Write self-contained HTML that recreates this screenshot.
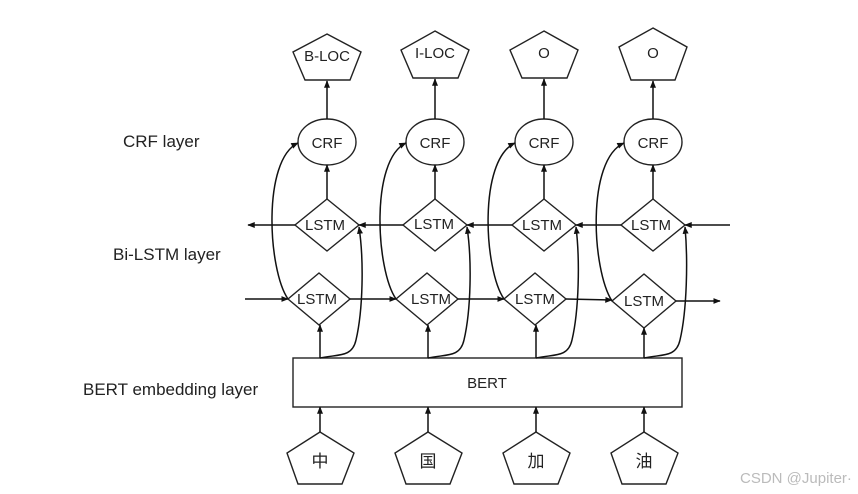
<!DOCTYPE html>
<html><head><meta charset="utf-8"><style>
body{margin:0;background:#fff}
svg{display:block}
text{font-family:"Liberation Sans","Noto Sans CJK SC",sans-serif;fill:#222}
</style></head><body>
<svg width="858" height="494" viewBox="0 0 858 494" xmlns="http://www.w3.org/2000/svg">
<defs><marker id="a" viewBox="0 0 10 10" refX="9" refY="5" markerWidth="5" markerHeight="5" orient="auto"><path d="M0,1 L10,5 L0,9z" fill="#111"/></marker></defs>
<rect width="858" height="494" fill="#fff"/>
<g stroke="#222" stroke-width="1.4" fill="none">
<polygon points="327,34 361,52 350,80 305,80 293,52" fill="#fff"/>
<polygon points="435,31 469,50 458,78 413,78 401,50" fill="#fff"/>
<polygon points="544,31 578,50 567,78 522,78 510,50" fill="#fff"/>
<polygon points="653,28 687,47 675,80 631,80 619,47" fill="#fff"/>
<ellipse cx="327" cy="142" rx="29" ry="23" fill="#fff"/>
<ellipse cx="435" cy="142" rx="29" ry="23" fill="#fff"/>
<ellipse cx="544" cy="142" rx="29" ry="23" fill="#fff"/>
<ellipse cx="653" cy="142" rx="29" ry="23" fill="#fff"/>
<polygon points="327,199 359,225 327,251 295,225" fill="#fff"/>
<polygon points="435,199 467,225 435,251 403,225" fill="#fff"/>
<polygon points="544,199 576,225 544,251 512,225" fill="#fff"/>
<polygon points="653,199 685,225 653,251 621,225" fill="#fff"/>
<polygon points="319,273 350,299 319,325 288,299" fill="#fff"/>
<polygon points="427,273 458,299 427,325 396,299" fill="#fff"/>
<polygon points="535,273 566,299 535,325 504,299" fill="#fff"/>
<polygon points="644,274 676,301 644,328 612,301" fill="#fff"/>
<rect x="293" y="358" width="389" height="49" fill="#fff"/>
<polygon points="320,432 354,453 342,484 298,484 287,453" fill="#fff"/>
<polygon points="428,432 462,453 450,484 406,484 395,453" fill="#fff"/>
<polygon points="536,432 570,453 558,484 514,484 503,453" fill="#fff"/>
<polygon points="644,432 678,453 666,484 622,484 611,453" fill="#fff"/>
</g>
<g stroke="#111" stroke-width="1.5" fill="none" marker-end="url(#a)">
<line x1="327" y1="119" x2="327" y2="81"/><line x1="435" y1="119" x2="435" y2="79"/><line x1="544" y1="119" x2="544" y2="79"/><line x1="653" y1="119" x2="653" y2="81"/>
<line x1="327" y1="199" x2="327" y2="165"/><line x1="435" y1="199" x2="435" y2="165"/><line x1="544" y1="199" x2="544" y2="165"/><line x1="653" y1="199" x2="653" y2="165"/>
<line x1="320" y1="358" x2="320" y2="325"/><line x1="428" y1="358" x2="428" y2="325"/><line x1="536" y1="358" x2="536" y2="325"/><line x1="644" y1="358" x2="644" y2="328"/>
<line x1="320" y1="432" x2="320" y2="407"/><line x1="428" y1="432" x2="428" y2="407"/><line x1="536" y1="432" x2="536" y2="407"/><line x1="644" y1="432" x2="644" y2="407"/>
<line x1="295" y1="225" x2="248" y2="225"/>
<line x1="403" y1="225" x2="359" y2="225"/>
<line x1="512" y1="225" x2="467" y2="225"/>
<line x1="621" y1="225" x2="576" y2="225"/>
<line x1="730" y1="225" x2="685" y2="225"/>
<line x1="245" y1="299" x2="288" y2="299"/>
<line x1="350" y1="299" x2="396" y2="299"/>
<line x1="458" y1="299" x2="504" y2="299"/>
<line x1="566" y1="299" x2="612" y2="300"/>
<line x1="676" y1="301" x2="720" y2="301"/>
<path d="M288,299 C268,270 262,160 298,143"/>
<path d="M396,299 C376,270 370,160 406,143"/>
<path d="M504,299 C484,270 478,160 515,143"/>
<path d="M612,301 C592,270 586,160 624,143"/>
<path d="M320,358 C338,354 352,358 356,340 C363,310 364,260 359,227"/>
<path d="M428,358 C446,354 460,358 464,340 C471,310 472,260 467,227"/>
<path d="M536,358 C554,354 568,358 572,340 C579,310 580,260 576,227"/>
<path d="M644,358 C662,354 676,358 680,340 C687,310 688,260 685,227"/>
</g>
<g font-size="15" text-anchor="middle">
<text x="327" y="61">B-LOC</text><text x="435" y="58">I-LOC</text><text x="544" y="58">O</text><text x="653" y="58">O</text>
<text x="327" y="148">CRF</text><text x="435" y="148">CRF</text><text x="544" y="148">CRF</text><text x="653" y="148">CRF</text>
<text x="325" y="230">LSTM</text><text x="434" y="229">LSTM</text><text x="542" y="230">LSTM</text><text x="651" y="230">LSTM</text>
<text x="317" y="304">LSTM</text><text x="431" y="304">LSTM</text><text x="535" y="304">LSTM</text><text x="644" y="306">LSTM</text>
<text x="487" y="388">BERT</text>
<text x="320" y="467" font-size="17">中</text><text x="428" y="467" font-size="17">国</text><text x="536" y="467" font-size="17">加</text><text x="644" y="467" font-size="17">油</text>
</g>
<g font-size="17">
<text x="123" y="147">CRF layer</text>
<text x="113" y="260">Bi-LSTM layer</text>
<text x="83" y="395">BERT embedding layer</text>
</g>
<text x="740" y="483" font-size="15" style="fill:#bbb">CSDN @Jupiter·</text>
</svg>
</body></html>
